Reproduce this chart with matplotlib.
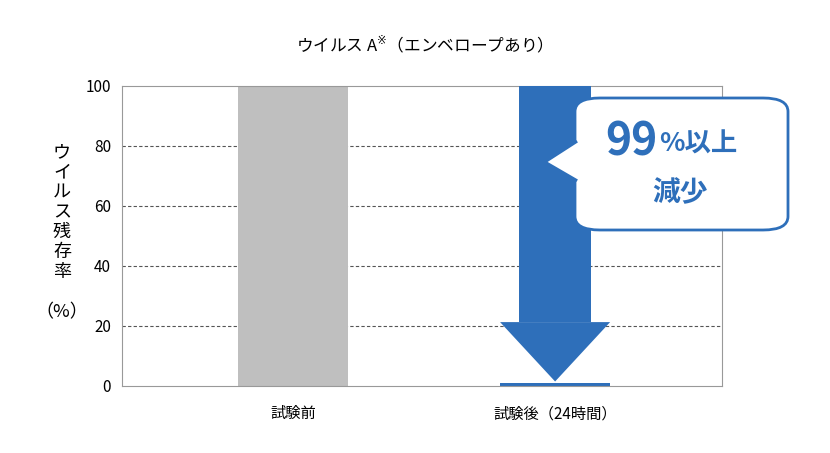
import matplotlib.pyplot as plt
import matplotlib.patches as patches

plt.rcParams['font.family'] = ['Noto Sans CJK JP', 'DejaVu Sans']

categories = ['試験前', '試験後（24時間）']
values = [100, 1]
bar_colors = ['#bfbfbf', '#2e6fba']
yticks = [0, 20, 40, 60, 80, 100]

fig = plt.figure(figsize=(8.3, 4.53), dpi=100)
ax = fig.add_axes([122/830, 1-386/453, 600/830, 300/453])
ax.set_xlim(-0.653, 1.637)
ax.set_ylim(0, 100)

for y in yticks[1:-1]:
    ax.axhline(y, color='#555555', lw=0.8, ls=(0, (3, 2)), zorder=1)

ax.bar(range(len(categories)), values, width=0.42, color=bar_colors, zorder=2)

# down arrow over the second bar
blue = '#2e6fba'
shaft = patches.Rectangle((1-0.137, 21.3), 0.274, 100-21.3, facecolor=blue, zorder=3)
head = patches.Polygon([(1-0.21, 21.3), (1+0.21, 21.3), (1, 1.5)], closed=True, facecolor=blue, zorder=3)
ax.add_patch(shaft)
ax.add_patch(head)

ax.set_yticks(yticks)
ax.set_xticks(range(len(categories)))
ax.set_xticklabels(categories, fontsize=13)
ax.tick_params(length=0, labelsize=11, pad=8)
ax.tick_params(axis='x', pad=14)
for s in ax.spines.values():
    s.set_color('#999999')
    s.set_linewidth(0.8)

fig.text(420/830, 1-45/453, 'ウイルス A$^{※}$（エンベロープあり）', ha='center', va='center', fontsize=12)
ylab = 'ウイルス残存率'
for i, ch in enumerate(ylab):
    fig.text(62/830, 1-(152+i*20)/453, ch, ha='center', va='center', fontsize=13)
fig.text(62/830, 1-312/453, '（%）', ha='center', va='center', fontsize=13)

# callout box
box = patches.FancyBboxPatch((575/830, 1-230/453), 213/830, 132/453,
                             boxstyle='round,pad=0,rounding_size=0.03',
                             transform=fig.transFigure, facecolor='white',
                             edgecolor=blue, lw=2, zorder=5)
fig.add_artist(box)
ptr = patches.Polygon([(577/830, 1-142/453), (545/830, 1-162/453), (577/830, 1-180/453)],
                      closed=True, transform=fig.transFigure, facecolor='white',
                      edgecolor='none', zorder=6)
fig.add_artist(ptr)
fig.add_artist(plt.Line2D([576/830, 545/830, 576/830], [1-142/453, 1-162/453, 1-180/453],
                          transform=fig.transFigure, color=blue, lw=2, zorder=7))
fig.text(657/830, 1-142/453, '99', ha='right', va='center', fontsize=32, color=blue, weight='bold', zorder=8)
fig.text(659/830, 1-144/453, '%以上', ha='left', va='center', fontsize=19, color=blue, weight='bold', zorder=8)
fig.text(680/830, 1-193/453, '減少', ha='center', va='center', fontsize=20, color=blue, weight='bold', zorder=8)

fig.savefig('out.png', dpi=100)
